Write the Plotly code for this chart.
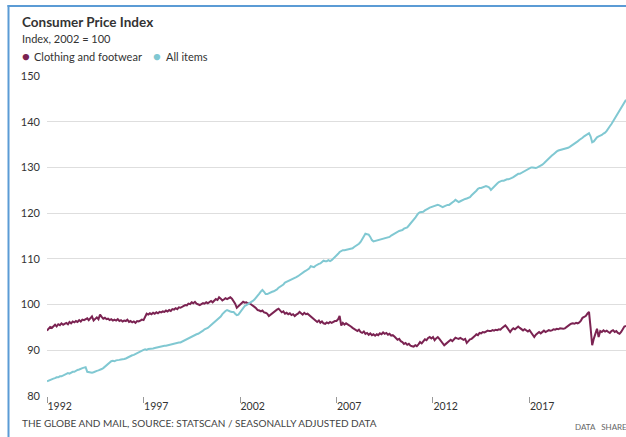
import pandas as pd
import plotly.graph_objects as go

# ---------------- data (monthly, seasonally adjusted, 2002 = 100) ----------------
start_month = "1992-01-01"

all_items = [
    # 1992
    83.2, 83.4, 83.5, 83.7, 83.8, 83.9, 84.1, 84.1, 84.3, 84.3, 84.5, 84.6,
    # 1993
    84.8, 85.0, 84.9, 85.1, 85.3, 85.3, 85.6, 85.7, 85.8, 86.0, 86.1, 86.2,
    # 1994
    86.3, 85.3, 85.2, 85.1, 85.1, 85.2, 85.4, 85.5, 85.6, 85.7, 85.9, 86.1,
    # 1995
    86.4, 86.8, 87.1, 87.4, 87.6, 87.7, 87.6, 87.8, 87.8, 87.9, 88.0, 88.0,
    # 1996
    88.1, 88.2, 88.4, 88.6, 88.8, 88.9, 89.0, 89.2, 89.4, 89.6, 89.8, 90.0,
    # 1997
    90.1, 90.2, 90.1, 90.3, 90.3, 90.4, 90.4, 90.5, 90.6, 90.7, 90.7, 90.8,
    # 1998
    90.9, 91.0, 91.0, 91.1, 91.2, 91.3, 91.3, 91.5, 91.5, 91.6, 91.7, 91.7,
    # 1999
    91.9, 92.0, 92.2, 92.5, 92.6, 92.8, 93.0, 93.2, 93.4, 93.5, 93.6, 93.8,
    # 2000
    94.0, 94.3, 94.6, 94.7, 94.9, 95.2, 95.5, 95.7, 96.0, 96.3, 96.7, 97.0,
    # 2001
    97.4, 97.9, 98.3, 98.6, 98.8, 98.6, 98.5, 98.4, 98.4, 98.0, 97.7, 97.8,
    # 2002
    98.3, 98.8, 99.3, 99.7, 99.9, 100.1, 100.3, 100.5, 100.8, 101.1, 101.5, 101.8,
    # 2003
    102.4, 102.9, 103.2, 102.8, 102.3, 102.3, 102.5, 102.6, 102.8, 102.9, 103.1, 103.3,
    # 2004
    103.7, 103.9, 104.2, 104.4, 104.8, 105.0, 105.1, 105.3, 105.5, 105.7, 105.9, 106.0,
    # 2005
    106.2, 106.5, 106.7, 107.0, 107.2, 107.4, 107.6, 107.9, 108.4, 108.3, 108.2, 108.5,
    # 2006
    108.8, 108.9, 109.0, 109.3, 109.6, 109.5, 109.5, 109.7, 109.5, 109.7, 110.0, 110.3,
    # 2007
    110.7, 111.1, 111.5, 111.7, 111.9, 111.9, 112.0, 112.1, 112.1, 112.2, 112.3, 112.6,
    # 2008
    112.8, 113.0, 113.3, 113.7, 114.3, 114.9, 115.5, 115.4, 115.3, 114.8, 114.1, 113.8,
    # 2009
    113.9, 114.0, 114.1, 114.1, 114.3, 114.4, 114.4, 114.5, 114.6, 114.8, 115.1, 115.3,
    # 2010
    115.6, 115.8, 115.9, 116.1, 116.2, 116.3, 116.6, 116.8, 116.9, 117.3, 117.7, 118.0,
    # 2011
    118.6, 119.0, 119.5, 120.0, 120.2, 120.2, 120.3, 120.6, 120.9, 121.0, 121.2, 121.3,
    # 2012
    121.4, 121.6, 121.7, 121.8, 121.7, 121.4, 121.3, 121.5, 121.7, 121.8, 121.8, 122.0,
    # 2013
    122.3, 122.6, 122.9, 122.7, 122.4, 122.6, 122.8, 123.0, 123.1, 123.2, 123.3, 123.5,
    # 2014
    123.9, 124.2, 124.6, 124.9, 125.3, 125.5, 125.5, 125.6, 125.8, 125.9, 125.8, 125.6,
    # 2015
    125.1, 125.5, 125.9, 126.2, 126.5, 126.8, 127.0, 127.1, 127.1, 127.3, 127.4, 127.4,
    # 2016
    127.5, 127.7, 127.9, 128.2, 128.4, 128.6, 128.6, 128.8, 129.0, 129.2, 129.4, 129.7,
    # 2017
    129.9, 130.0, 130.0, 129.9, 129.9, 130.0, 130.2, 130.3, 130.6, 130.9, 131.3, 131.6,
    # 2018
    131.9, 132.3, 132.6, 132.9, 133.3, 133.5, 133.7, 133.8, 133.9, 134.0, 134.0, 134.1,
    # 2019
    134.3, 134.5, 134.7, 134.9, 135.2, 135.4, 135.7, 136.0, 136.2, 136.5, 136.8, 137.0,
    # 2020
    137.2, 137.5, 136.8, 135.5, 135.7, 136.2, 136.6, 136.8, 136.9, 137.1, 137.4, 137.6,
    # 2021
    138.0, 138.4, 139.0, 139.5, 140.1, 140.6, 141.1, 141.7, 142.3, 143.0, 143.7, 144.3,
    # 2022
    144.8,
]

clothing_footwear = [
    # 1992
    94.3, 94.8, 95.1, 94.9, 95.3, 95.6, 95.2, 95.7, 95.5, 95.9, 95.6, 95.8,
    # 1993
    96.0, 95.7, 96.2, 95.9, 96.3, 96.1, 96.4, 96.2, 96.6, 96.3, 96.7, 96.6,
    # 1994
    96.8, 97.0, 96.6, 97.1, 97.4, 96.5, 96.9, 97.2, 96.8, 97.8, 97.3, 96.9,
    # 1995
    97.1, 96.8, 96.9, 96.6, 96.8, 96.5, 96.7, 96.5, 96.8, 96.4, 96.6, 96.3,
    # 1996
    96.5, 96.4, 96.7, 96.2, 96.4, 96.1, 96.3, 96.0, 96.4, 96.3, 96.5, 96.7,
    # 1997
    96.6, 97.3, 98.0, 97.8, 98.1, 97.9, 98.2, 98.0, 98.3, 98.1, 98.4, 98.3,
    # 1998
    98.5, 98.4, 98.7, 98.5, 98.8, 98.6, 99.0, 98.9, 99.2, 99.0, 99.4, 99.3,
    # 1999
    99.5, 99.7, 99.9, 99.8, 100.2, 100.1, 100.5, 100.3, 100.6, 100.2, 100.0, 99.9,
    # 2000
    100.1, 100.3, 100.2, 100.5, 100.3, 100.6, 100.8, 100.5, 100.9, 101.2, 101.0, 101.6,
    # 2001
    101.3, 100.9, 101.1, 101.4, 101.2, 101.5, 101.6, 101.3, 100.8, 100.2, 99.3, 99.6,
    # 2002
    99.8, 100.3, 100.6, 100.4, 100.5, 100.2, 100.3, 100.0, 99.8, 99.5, 99.2, 98.8,
    # 2003
    98.7, 98.5, 98.7, 98.3, 98.2, 98.0, 97.5, 97.8, 98.2, 98.5, 98.7, 98.9,
    # 2004
    99.1, 98.7, 98.3, 98.5, 98.0, 98.2, 97.9, 98.1, 97.7, 97.9, 97.5, 97.8,
    # 2005
    98.0, 98.4, 98.1, 97.8, 98.2, 97.9, 98.0, 97.7, 97.4, 97.0, 96.6, 96.4,
    # 2006
    96.2, 96.5, 96.0, 96.3, 95.9, 95.8, 96.1, 95.9, 96.2, 96.0, 96.3, 96.4,
    # 2007
    96.4, 96.8, 97.5, 95.4, 96.0, 95.6, 95.9, 95.7, 95.5, 95.2, 94.9, 94.7,
    # 2008
    94.4, 94.2, 94.5, 94.0, 93.8, 94.1, 93.6, 93.8, 93.4, 93.7, 93.3, 93.5,
    # 2009
    93.2, 93.5, 93.3, 93.7, 93.5, 93.9, 93.6, 93.8, 93.4, 93.6, 93.2, 93.3,
    # 2010
    93.0, 92.7, 92.3, 92.5, 92.0, 91.8, 91.4, 91.6, 91.2, 91.4, 91.0, 90.9,
    # 2011
    90.8, 91.1, 90.9, 91.3, 91.8, 91.5, 92.0, 92.4, 92.2, 92.7, 92.9, 92.6,
    # 2012
    92.9, 92.2, 92.6, 92.9, 92.5, 92.1, 91.5, 91.1, 91.4, 91.7, 92.0, 92.3,
    # 2013
    92.0, 92.4, 92.75, 92.6, 92.5, 92.7, 92.5, 92.3, 92.5, 91.6, 92.0, 92.4,
    # 2014
    92.5, 92.75, 93.1, 93.5, 93.3, 93.8, 93.7, 94.0, 93.9, 94.1, 94.3, 94.2,
    # 2015
    94.2, 94.4, 94.3, 94.5, 94.4, 94.6, 94.5, 94.9, 95.2, 95.45, 95.0, 94.6,
    # 2016
    94.0, 94.5, 94.8, 94.6, 95.0, 95.2, 94.9, 94.6, 94.35, 94.6, 94.3, 94.1,
    # 2017
    94.4, 93.9, 93.5, 92.9, 93.4, 93.8, 94.0, 93.7, 94.1, 94.3, 94.0, 94.2,
    # 2018
    94.4, 94.3, 94.35, 94.6, 94.5, 94.7, 94.6, 94.8, 94.7, 94.7, 94.8, 95.0,
    # 2019
    95.3, 95.6, 95.8, 95.9, 95.8, 96.0, 95.9, 96.1, 96.5, 97.1, 97.3, 97.5,
    # 2020
    98.0, 98.4, 95.0, 91.1, 92.5, 93.6, 94.7, 92.9, 94.2, 94.0, 94.35, 94.1,
    # 2021
    94.3, 94.0, 93.8, 94.2, 94.4, 94.0, 94.2, 93.8, 93.6, 94.0, 94.6, 95.2,
    # 2022
    95.3,
]

series_names = ["Clothing and footwear", "All items"]
series_colors = ["#7b2352", "#80c8d2"]

x_tick_vals = ["1992-01-01", "1997-01-01", "2002-01-01", "2007-01-01", "2012-01-01", "2017-01-01"]
x_tick_text = ["1992", "1997", "2002", "2007", "2012", "2017"]
y_tick_vals = [80, 90, 100, 110, 120, 130, 140, 150]
y_grid_vals = [90, 100, 110, 120, 130, 140, 150]

title_text = "Consumer Price Index"
subtitle_text = "Index, 2002 = 100"
footer_text = "THE GLOBE AND MAIL, SOURCE: STATSCAN / SEASONALLY ADJUSTED DATA"

# ---------------- figure ----------------
months = pd.date_range(start_month, periods=len(all_items), freq="MS")

W, H = 626, 437
ML, MR, MT, MB = 47, 0, 76, 41
PW, PH = W - ML - MR, H - MT - MB
FONT = "Lato, 'Open Sans', sans-serif"


def px(xp):
    return (xp - ML) / PW


def py(yp):
    return (H - MB - yp) / PH


fig = go.Figure()
fig.add_trace(go.Scatter(x=months, y=clothing_footwear, name=series_names[0], mode="lines",
                         line=dict(color=series_colors[0], width=2), showlegend=False))
fig.add_trace(go.Scatter(x=months, y=all_items, name=series_names[1], mode="lines",
                         line=dict(color=series_colors[1], width=2), showlegend=False))
# invisible trace carrying the tick labels on a second y axis
fig.add_trace(go.Scatter(x=[months[0]], y=[None], yaxis="y2", showlegend=False, hoverinfo="skip"))

fig.update_layout(
    width=W, height=H,
    margin=dict(l=ML, r=MR, t=MT, b=MB, pad=0),
    paper_bgcolor="white", plot_bgcolor="white",
    font=dict(family=FONT, size=11, color="#333333"),
    xaxis=dict(type="date", range=[months[0], months[-1]],
               tickmode="array", tickvals=x_tick_vals, ticktext=x_tick_text,
               ticks="outside", ticklen=6, tickwidth=1, tickcolor="#999999",
               ticklabelposition="outside right",
               tickfont=dict(size=10.5, color="#333333"),
               showgrid=False, zeroline=False, showline=False, fixedrange=True),
    yaxis=dict(range=[80, 150], tickmode="array", tickvals=y_grid_vals,
               showticklabels=False, showgrid=True, gridcolor="#dedede", gridwidth=1,
               zeroline=False, showline=False, ticks="", fixedrange=True),
    yaxis2=dict(range=[80, 150], overlaying="y", side="left", tickmode="array",
                tickvals=y_tick_vals, showgrid=False, zeroline=False, showline=False,
                ticks="", ticklabelstandoff=6,
                tickfont=dict(size=11, color="#333333"), fixedrange=True),
    showlegend=False,
)

ann = []
ann.append(dict(text="<b>" + title_text + "</b>", x=px(20), y=py(22), xanchor="left", yanchor="middle",
                font=dict(size=13.5, color="#333333")))
ann.append(dict(text=subtitle_text, x=px(20), y=py(38), xanchor="left", yanchor="middle",
                font=dict(size=11, color="#333333")))
# legend
ann.append(dict(text="●", x=px(25.5), y=py(56), xanchor="center", yanchor="middle",
                font=dict(size=13, color=series_colors[0])))
ann.append(dict(text=series_names[0], x=px(32), y=py(56), xanchor="left", yanchor="middle",
                font=dict(size=11, color="#333333")))
ann.append(dict(text="●", x=px(156.5), y=py(56), xanchor="center", yanchor="middle",
                font=dict(size=13, color=series_colors[1])))
ann.append(dict(text=series_names[1], x=px(164), y=py(56), xanchor="left", yanchor="middle",
                font=dict(size=11, color="#333333")))
# footer
ann.append(dict(text=footer_text, x=px(20), y=py(423), xanchor="left", yanchor="middle",
                font=dict(size=10, color="#444444")))
ann.append(dict(text="DATA&nbsp;&nbsp;&nbsp;SHARE", x=px(573), y=py(427), xanchor="left", yanchor="middle",
                font=dict(size=8, color="#666666")))
for a in ann:
    a.update(xref="paper", yref="paper", showarrow=False)
fig.update_layout(annotations=ann)

# blue frame of the page (left and top edges)
BLUE = "#5b9bd5"
fig.update_layout(shapes=[
    dict(type="line", xref="paper", yref="paper", x0=px(8.5), x1=px(8.5), y0=py(5), y1=py(H + 2),
         line=dict(color=BLUE, width=2)),
    dict(type="line", xref="paper", yref="paper", x0=px(7.5), x1=px(W + 2), y0=py(6), y1=py(6),
         line=dict(color=BLUE, width=2)),
])

fig.write_html("out.html", config={"displayModeBar": False},
               post_script="document.body.style.margin='0';document.body.style.overflow='hidden';")
